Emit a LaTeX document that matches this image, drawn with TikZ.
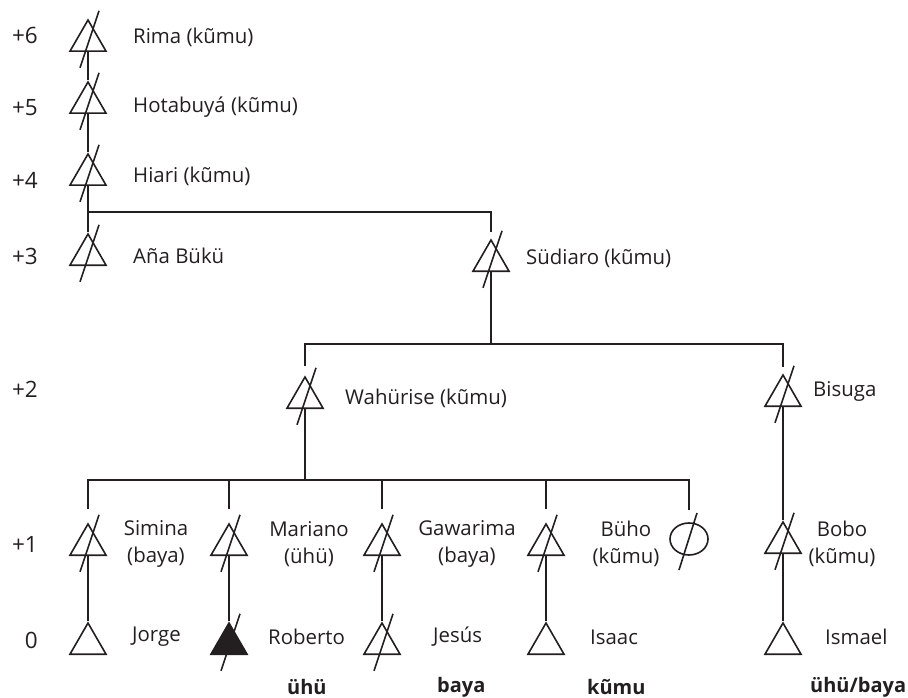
\documentclass[tikz,border=0pt]{standalone}
\usepackage{fontspec}
\setmainfont{Open Sans}
\usetikzlibrary{shapes.geometric,calc}
\definecolor{ink}{HTML}{231F20}
\tikzset{
  male/.style={regular polygon, regular polygon sides=3, minimum size=41.6pt,
    inner sep=0pt, draw=ink, line width=1.6pt},
  female/.style={ellipse, minimum width=38pt, minimum height=32pt, inner sep=0pt,
    draw=ink, line width=1.6pt},
  ego/.style={male, fill=ink},
  txt/.style={inner sep=0pt, text=ink, font=\fontsize{20.4}{27}\selectfont},
  personlabel/.style={txt, anchor=west},
  pairlabel/.style={txt, align=center},
  genlabel/.style={txt, anchor=east, font=\fontsize{22.5}{27}\selectfont},
  termlabel/.style={txt, anchor=west, font=\fontsize{20}{27}\selectfont\bfseries},
  tie/.style={draw=ink, line width=1.6pt},
  strike/.style={draw=ink, line width=1.6pt}
}
\begin{document}
\begin{tikzpicture}[x=1pt,y=-1pt]
\useasboundingbox (0,0) rectangle (908,698);

% generation numbers
\node[genlabel] (g6) at (38,35) {+6};
\node[genlabel] (g5) at (38,108) {+5};
\node[genlabel] (g4) at (38,180) {+4};
\node[genlabel] (g3) at (38,256) {+3};
\node[genlabel] (g2) at (38,389) {+2};
\node[genlabel] (g1) at (38,544) {+1};
\node[genlabel] (g0) at (38,640) {0};

% individuals
\node[male] (rima)  at (88,40.8) {};
\node[male] (hota)  at (88,102.8) {};
\node[male] (hiari) at (88,174.8) {};
\node[male] (ana)   at (88,254.8) {};
\node[male] (sud)   at (491,260.8) {};
\node[male] (wah)   at (305,397.8) {};
\node[male] (bis)   at (783,395.8) {};
\node[male] (sim)   at (88,544.8) {};
\node[male] (mar)   at (229,544.8) {};
\node[male] (gaw)   at (382,544.8) {};
\node[male] (buho)  at (546,544.8) {};
\node[female] (wife) at (689,539) {};
\node[male] (bobo)  at (783,542.8) {};
\node[male] (jorge) at (88,643.8) {};
\node[ego]  (rob)   at (229,643.8) {};
\node[male] (jes)   at (382,643.8) {};
\node[male] (isaac) at (546,643.8) {};
\node[male] (ism)   at (783,643.8) {};

% deceased strokes
\foreach \p in {rima,hota,hiari,ana,sud,wah,bis,sim,mar,gaw,buho,bobo,rob,jes}
  \draw[strike] ($(\p)+(11,-30)$) -- ($(\p)+(-8,27)$);
\draw[strike] ($(wife)+(8,-26)$) -- ($(wife)+(-10,31)$);

% names
\node[personlabel] (trima)  at (133,37)  {Rima (kũmu)};
\node[personlabel] (thota)  at (133,107) {Hotabuyá (kũmu)};
\node[personlabel] (thiari) at (133,176) {Hiari (kũmu)};
\node[personlabel] (tana)   at (133,256) {Aña Bükü};
\node[personlabel] (tsud)   at (526,258) {Südiaro (kũmu)};
\node[personlabel] (twah)   at (345,398) {Wahürise (kũmu)};
\node[personlabel] (tbis)   at (813,391) {Bisuga};
\node[pairlabel] (tsim)   at (156,544) {Simina\\(baya)};
\node[pairlabel] (tmar)   at (309,544) {Mariano\\(ühü)};
\node[pairlabel] (tgaw)   at (467,544) {Gawarima\\(baya)};
\node[pairlabel] (tbuho)  at (626,544) {Büho\\(kũmu)};
\node[pairlabel] (tbobo)  at (842,544) {Bobo\\(kũmu)};
\node[personlabel] (tjorge) at (132,637) {Jorge};
\node[personlabel] (trob)   at (268,637) {Roberto};
\node[personlabel] (tjes)   at (433,637) {Jesús};
\node[personlabel] (tisaac) at (590,637) {Isaac};
\node[personlabel] (tism)   at (825,637) {Ismael};

% terms
\node[termlabel] (k1) at (287,687) {ühü};
\node[termlabel] (k2) at (437,687) {baya};
\node[termlabel] (k3) at (587,687) {kũmu};
\node[termlabel] (k4) at (810,687) {ühü/baya};

% line of descent, top
\draw[tie] (rima.side 2) -- (hota.corner 1);
\draw[tie] (hota.side 2) -- (hiari.corner 1);
\draw[tie] (hiari.side 2) -- (ana.corner 1);
\coordinate (j3) at (88,212);
\coordinate (sudtop) at (491,232);
\draw[tie] (j3) -| (sudtop);

% Südiaro's sons
\coordinate (j2) at (491,344);
\coordinate (wahtop) at (305,366);
\coordinate (bistop) at (783,367);
\draw[tie] (sud.side 2) -- (j2);
\draw[tie] (wahtop) |- (j2) -| (bistop);

% Wahürise's children
\coordinate (j1) at (305,480);
\coordinate (simtop) at (88,509);
\coordinate (wifetop) at (689,510);
\coordinate (martop) at (229,509);
\coordinate (gawtop) at (382,509);
\coordinate (buhotop) at (546,509);
\draw[tie] (wah.side 2) -- (j1);
\draw[tie] (simtop) |- (j1) -| (wifetop);
\draw[tie] (martop) -- (martop |- j1);
\draw[tie] (gawtop) -- (gawtop |- j1);
\draw[tie] (buhotop) -- (buhotop |- j1);

% father to son
\draw[tie] (bis.side 2) -- (bobo.corner 1);
\draw[tie] (bobo.side 2) -- (ism.corner 1);
\draw[tie] (sim.side 2) -- (jorge.corner 1);
\draw[tie] (mar.side 2) -- (rob.corner 1);
\draw[tie] (gaw.side 2) -- (jes.corner 1);
\draw[tie] (buho.side 2) -- (isaac.corner 1);
\end{tikzpicture}
\end{document}
